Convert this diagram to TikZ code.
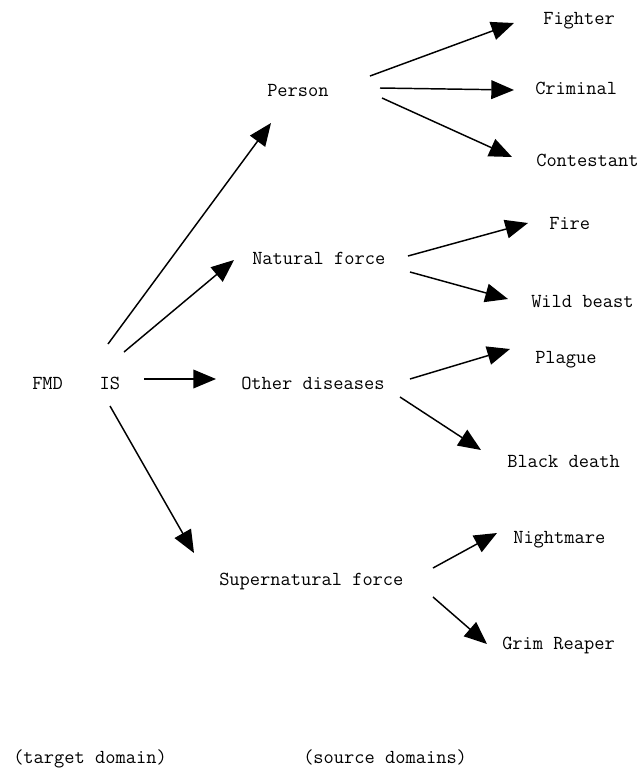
\documentclass[tikz,border=0pt]{standalone}
\usepackage{fontspec}
\usetikzlibrary{arrows.meta}
\begin{document}
\begin{tikzpicture}[x=0.75pt,y=-0.75pt,
  lbl/.style={anchor=base west,inner sep=0pt,font=\ttfamily\fontsize{14.9}{17}\selectfont},
  arr/.style={line width=1.1pt,-{Triangle[length=17pt,width=14pt]}}]
\useasboundingbox[fill=white] (0,0) rectangle (639,769);
% labels
\node[lbl] (fmd) at (32,389) {FMD\hspace{27.5pt}IS};
\node[lbl] (person) at (267,96) {Person};
\node[lbl] (natural) at (252,264) {Natural force};
\node[lbl] (other) at (241,389) {Other diseases};
\node[lbl] (super) at (219,585) {Supernatural force};
\node[lbl] (fighter) at (543,24) {Fighter};
\node[lbl] (criminal) at (535,94) {Criminal};
\node[lbl] (contestant) at (536,166) {Contestant};
\node[lbl] (fire) at (549,229) {Fire};
\node[lbl] (wild) at (531,307) {Wild beast};
\node[lbl] (plague) at (535,363) {Plague};
\node[lbl] (black) at (507,467) {Black death};
\node[lbl] (night) at (513,543) {Nightmare};
\node[lbl] (grim) at (502,649) {Grim Reaper};
\node[lbl] (target) at (13,763) {(target domain)};
\node[lbl] (source) at (303,763) {(source domains)};
% connector end points
\coordinate (a1s) at (108,344); \coordinate (a1e) at (271,123);
\coordinate (a2s) at (124,352); \coordinate (a2e) at (234,260);
\coordinate (a3s) at (144,379); \coordinate (a3e) at (216,379);
\coordinate (a4s) at (110,406); \coordinate (a4e) at (194,553);
\coordinate (b1s) at (370,76);  \coordinate (b1e) at (514,23);
\coordinate (b2s) at (380,88);  \coordinate (b2e) at (514,90);
\coordinate (b3s) at (382,98);  \coordinate (b3e) at (512,157);
\coordinate (c1s) at (408,256); \coordinate (c1e) at (528,223);
\coordinate (c2s) at (410,272); \coordinate (c2e) at (508,299);
\coordinate (d1s) at (410,379); \coordinate (d1e) at (510,349);
\coordinate (d2s) at (400,397); \coordinate (d2e) at (481,450);
\coordinate (e1s) at (433,568); \coordinate (e1e) at (497,533);
\coordinate (e2s) at (433,597); \coordinate (e2e) at (487,644);
% connectors
\draw[arr] (a1s) -- (a1e);
\draw[arr] (a2s) -- (a2e);
\draw[arr] (a3s) -- (a3e);
\draw[arr] (a4s) -- (a4e);
\draw[arr] (b1s) -- (b1e);
\draw[arr] (b2s) -- (b2e);
\draw[arr] (b3s) -- (b3e);
\draw[arr] (c1s) -- (c1e);
\draw[arr] (c2s) -- (c2e);
\draw[arr] (d1s) -- (d1e);
\draw[arr] (d2s) -- (d2e);
\draw[arr] (e1s) -- (e1e);
\draw[arr] (e2s) -- (e2e);
\end{tikzpicture}
\end{document}
